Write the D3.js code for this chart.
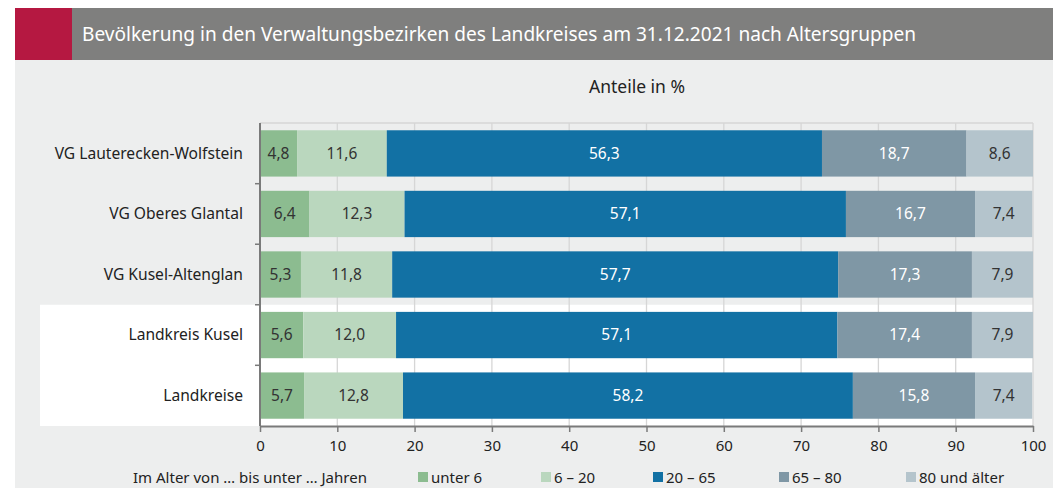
<!DOCTYPE html>
<html lang="de">
<head>
<meta charset="utf-8">
<title>Bevölkerung nach Altersgruppen</title>
<script src="https://cdn.jsdelivr.net/npm/d3@7"></script>
<style>
    body { margin: 0; background: #fff; }
    svg { display: block; font-family: "Noto Sans", "Open Sans", sans-serif; }
</style>
</head>
<body>
<div id="chart"></div>
<script>
    // data
    const regions = ["VG Lauterecken-Wolfstein", "VG Oberes Glantal", "VG Kusel-Altenglan", "Landkreis Kusel", "Landkreise"];
    const groups = ["unter 6", "6 – 20", "20 – 65", "65 – 80", "80 und älter"];
    const under6 = [4.8, 6.4, 5.3, 5.6, 5.7];
    const age6to20 = [11.6, 12.3, 11.8, 12.0, 12.8];
    const age20to65 = [56.3, 57.1, 57.7, 57.1, 58.2];
    const age65to80 = [18.7, 16.7, 17.3, 17.4, 15.8];
    const age80plus = [8.6, 7.4, 7.9, 7.9, 7.4];
    const xTicks = [0, 10, 20, 30, 40, 50, 60, 70, 80, 90, 100];
    const highlighted = ["Landkreis Kusel", "Landkreise"];

    const series = [under6, age6to20, age20to65, age65to80, age80plus];
    const colors = ["#8cbc90", "#bad7be", "#1271a4", "#7f97a5", "#b4c4cc"];
    const textColors = ["#333", "#333", "#fff", "#fff", "#333"];

    const W = 1053, H = 488;
    const svg = d3.select("#chart").append("svg")
        .attr("width", W).attr("height", H);

    // panel background
    svg.append("rect").attr("x", 15).attr("y", 60).attr("width", W - 15).attr("height", H - 60)
        .attr("fill", "#edeeee");

    // title bar
    svg.append("rect").attr("x", 15).attr("y", 8).attr("width", W - 15).attr("height", 52).attr("fill", "#7f7f7e");
    svg.append("rect").attr("x", 15).attr("y", 8).attr("width", 57).attr("height", 52).attr("fill", "#b51841");
    svg.append("text").attr("x", 82).attr("y", 41)
        .attr("fill", "#fff").style("font-size", "20px")
        .attr("textLength", 834).attr("lengthAdjust", "spacingAndGlyphs")
        .text("Bevölkerung in den Verwaltungsbezirken des Landkreises am 31.12.2021 nach Altersgruppen");

    // scales
    const plotLeft = 260, plotRight = 1033, plotTop = 123, plotBottom = 426;
    const x = d3.scaleLinear().domain([0, 100]).range([plotLeft, plotRight]);
    const y = d3.scaleBand().domain(regions).range([plotTop, plotBottom]).paddingInner(0.235).paddingOuter(0.12);

    // white highlight behind the Landkreis rows
    const step = y.step();
    const gap = (step - y.bandwidth()) / 2;
    const hlTop = y(highlighted[0]) - gap;
    svg.append("rect").attr("x", 40).attr("y", hlTop)
        .attr("width", plotRight - 40).attr("height", plotBottom - hlTop).attr("fill", "#fff");

    // grid
    svg.append("g").selectAll("line").data(xTicks.slice(1)).join("line")
        .attr("x1", d => x(d)).attr("x2", d => x(d))
        .attr("y1", plotTop).attr("y2", plotBottom)
        .attr("stroke", "#d6d6d6").attr("stroke-width", 1.3);
    svg.append("line").attr("x1", plotLeft).attr("x2", plotRight).attr("y1", plotTop).attr("y2", plotTop)
        .attr("stroke", "#d6d6d6").attr("stroke-width", 1.3);

    // stacked bars
    const rows = regions.map((r, i) => {
        let acc = 0;
        return series.map((s, k) => {
            const d = {region: r, k: k, v: s[i], x0: acc, x1: acc + s[i]};
            acc += s[i];
            return d;
        });
    }).flat();

    svg.append("g").selectAll("rect").data(rows).join("rect")
        .attr("x", d => x(d.x0))
        .attr("y", d => y(d.region))
        .attr("width", d => x(d.x1) - x(d.x0))
        .attr("height", y.bandwidth())
        .attr("fill", d => colors[d.k]);

    svg.append("g").selectAll("text").data(rows).join("text")
        .attr("x", d => x((d.x0 + d.x1) / 2))
        .attr("y", d => y(d.region) + y.bandwidth() / 2)
        .attr("dy", "0.35em")
        .attr("text-anchor", "middle")
        .attr("fill", d => textColors[d.k])
        .style("font-size", "15.5px")
        .text(d => d.v.toFixed(1).replace(".", ","));

    // y axis
    svg.append("line").attr("x1", plotLeft).attr("x2", plotLeft).attr("y1", plotTop).attr("y2", plotBottom)
        .attr("stroke", "#7a7a7a").attr("stroke-width", 2);
    svg.append("g").selectAll("line").data(regions.slice(1)).join("line")
        .attr("x1", plotLeft - 5).attr("x2", plotLeft)
        .attr("y1", d => y(d) - gap)
        .attr("y2", d => y(d) - gap)
        .attr("stroke", "#7a7a7a").attr("stroke-width", 1.5);

    svg.append("g").selectAll("text").data(regions).join("text")
        .attr("x", 243)
        .attr("y", d => y(d) + y.bandwidth() / 2)
        .attr("dy", "0.35em")
        .attr("text-anchor", "end")
        .attr("fill", "#222")
        .style("font-size", "15.6px")
        .text(d => d);

    // x axis
    const xAxis = svg.append("g")
        .attr("transform", "translate(0," + plotBottom + ")")
        .call(d3.axisBottom(x).tickValues(xTicks).tickSize(6).tickPadding(8).tickSizeOuter(0));
    xAxis.select(".domain").attr("stroke", "#7a7a7a").attr("stroke-width", 2);
    xAxis.selectAll(".tick line").attr("stroke", "#7a7a7a").attr("stroke-width", 1.5);
    xAxis.selectAll(".tick text").attr("fill", "#222")
        .style("font-size", "15px").style("font-family", "'Noto Sans', sans-serif");

    // unit label
    svg.append("text").attr("x", 637).attr("y", 93).attr("text-anchor", "middle")
        .attr("fill", "#222").style("font-size", "17.5px").text("Anteile in %");

    // legend
    svg.append("text").attr("x", 133).attr("y", 483).attr("fill", "#222")
        .style("font-size", "15px").text("Im Alter von … bis unter … Jahren");
    const legendX = [418, 541, 653, 779, 906];
    const legend = svg.append("g").selectAll("g").data(groups).join("g")
        .attr("transform", (d, i) => "translate(" + legendX[i] + ",472)");
    legend.append("rect").attr("width", 10).attr("height", 10).attr("fill", (d, i) => colors[i]);
    legend.append("text").attr("x", 13).attr("y", 11).attr("fill", "#222")
        .style("font-size", "15px").text(d => d);
</script>
</body>
</html>
